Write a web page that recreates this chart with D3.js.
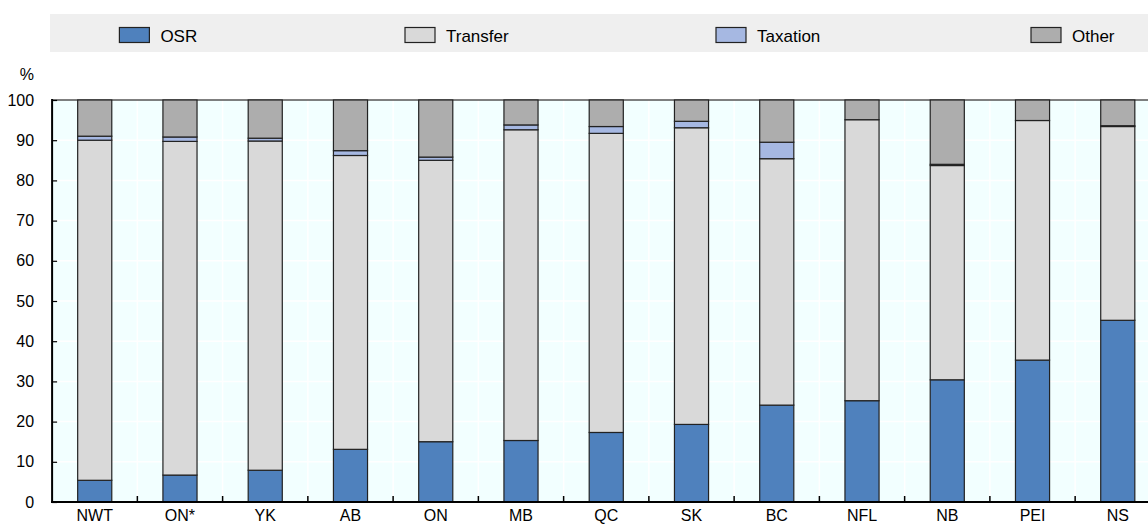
<!DOCTYPE html>
<html>
<head>
<meta charset="utf-8">
<script src="https://cdn.jsdelivr.net/npm/d3@7"></script>
<style>
  html, body { margin: 0; padding: 0; background: #ffffff; }
  svg { display: block; font-family: "Liberation Sans", Arial, sans-serif; }
</style>
</head>
<body>
<svg id="chart" width="1148" height="525"></svg>
<script>
const categories = ["NWT", "ON*", "YK", "AB", "ON", "MB", "QC", "SK", "BC", "NFL", "NB", "PEI", "NS"];
const osr      = [5.4, 6.7, 7.9, 13.1, 15.0, 15.3, 17.3, 19.3, 24.1, 25.2, 30.4, 35.3, 45.2];
const transfer = [84.6, 83.0, 81.9, 73.1, 70.0, 77.3, 74.4, 73.8, 61.3, 69.9, 53.3, 59.6, 48.2];
const taxation = [1.0, 1.1, 0.7, 1.2, 0.8, 1.2, 1.7, 1.6, 4.1, 0.0, 0.3, 0.0, 0.2];
const other    = [9.0, 9.2, 9.5, 12.6, 14.2, 6.2, 6.6, 5.3, 10.5, 4.9, 16.0, 5.1, 6.4];
const seriesNames = ["OSR", "Transfer", "Taxation", "Other"];
const yTicks = [0, 10, 20, 30, 40, 50, 60, 70, 80, 90, 100];

const colors = { "OSR": "#4f81bd", "Transfer": "#d9d9d9", "Taxation": "#a6b8e2", "Other": "#adadad" };

const rows = categories.map((c, i) => ({
  cat: c, "OSR": osr[i], "Transfer": transfer[i], "Taxation": taxation[i], "Other": other[i]
}));

const svg = d3.select("#chart");
const pLeft = 52.1, pRight = 1160.4, pTop = 100, pBottom = 502;

const x = d3.scaleBand().domain(categories).range([pLeft, pRight]).paddingInner(0.6).paddingOuter(0.3);
const xb = d3.scaleBand().domain(categories).range([pLeft, pRight]).padding(0);
const y = d3.scaleLinear().domain([0, 100]).range([pBottom, pTop]);

// plot background
svg.append("rect").attr("x", pLeft).attr("y", pTop).attr("width", pRight - pLeft).attr("height", pBottom - pTop)
  .attr("fill", "#f2ffff");

// grid lines
svg.append("g").selectAll("line").data(yTicks.filter(d => d > 0 && d < 100)).join("line")
  .attr("x1", pLeft).attr("x2", pRight).attr("y1", d => y(d)).attr("y2", d => y(d))
  .attr("stroke", "#ffffff").attr("stroke-width", 1.5);
svg.append("g").selectAll("line").data(categories.slice(1)).join("line")
  .attr("x1", d => xb(d)).attr("x2", d => xb(d)).attr("y1", pTop).attr("y2", pBottom)
  .attr("stroke", "#ffffff").attr("stroke-width", 1.5);

// top frame line
svg.append("line").attr("x1", pLeft).attr("x2", pRight).attr("y1", pTop).attr("y2", pTop)
  .attr("stroke", "#555555").attr("stroke-width", 1.5);

// stacked bars
const stack = d3.stack().keys(seriesNames)(rows);
svg.append("g").selectAll("g").data(stack).join("g")
  .attr("fill", d => colors[d.key])
  .selectAll("rect").data(d => d.filter(p => p[1] - p[0] > 0)).join("rect")
  .attr("x", d => x(d.data.cat))
  .attr("width", x.bandwidth())
  .attr("y", d => y(d[1]))
  .attr("height", d => y(d[0]) - y(d[1]))
  .attr("stroke", "#222222").attr("stroke-width", 1.2);

// y axis
const yAxis = d3.axisLeft(y).tickValues(yTicks).tickSize(-5).tickPadding(18);
const gy = svg.append("g").attr("transform", `translate(${pLeft},0)`).call(yAxis);
gy.select(".domain").remove();
gy.selectAll(".tick line").attr("stroke", "#000").attr("stroke-width", 1.2);
gy.selectAll(".tick text").attr("font-size", 16).attr("fill", "#000")
  .attr("font-family", "'Liberation Sans', Arial, sans-serif");
svg.append("line").attr("x1", pLeft).attr("x2", pLeft).attr("y1", pTop - 1).attr("y2", pBottom + 1)
  .attr("stroke", "#000").attr("stroke-width", 2);

svg.append("text").attr("x", 34).attr("y", 80).attr("text-anchor", "end")
  .attr("font-size", 16).attr("fill", "#000").text("%");

// x axis
const xAxis = d3.axisBottom(x).tickSize(0).tickPadding(8);
const gx = svg.append("g").attr("transform", `translate(0,${pBottom})`).call(xAxis);
gx.select(".domain").remove();
gx.selectAll(".tick text").attr("font-size", 16).attr("fill", "#000")
  .attr("font-family", "'Liberation Sans', Arial, sans-serif");
svg.append("g").selectAll("line").data(categories.slice(1)).join("line")
  .attr("x1", d => xb(d)).attr("x2", d => xb(d)).attr("y1", pBottom).attr("y2", pBottom - 6)
  .attr("stroke", "#000").attr("stroke-width", 1.5);
svg.append("line").attr("x1", pLeft - 1).attr("x2", pRight).attr("y1", pBottom).attr("y2", pBottom)
  .attr("stroke", "#000").attr("stroke-width", 2);

// legend
svg.append("rect").attr("x", 50).attr("y", 14).attr("width", 1148 - 50).attr("height", 38)
  .attr("fill", "#efefef");
const legendX = [119.4, 405, 716, 1031];
seriesNames.forEach((name, i) => {
  const lx = legendX[i];
  svg.append("rect").attr("x", lx).attr("y", 27.5).attr("width", 30).attr("height", 15)
    .attr("fill", colors[name]).attr("stroke", "#222").attr("stroke-width", 1.2);
  svg.append("text").attr("x", lx + 41).attr("y", 41.5).attr("font-size", 17)
    .attr("fill", "#000").text(name);
});
</script>
</body>
</html>
